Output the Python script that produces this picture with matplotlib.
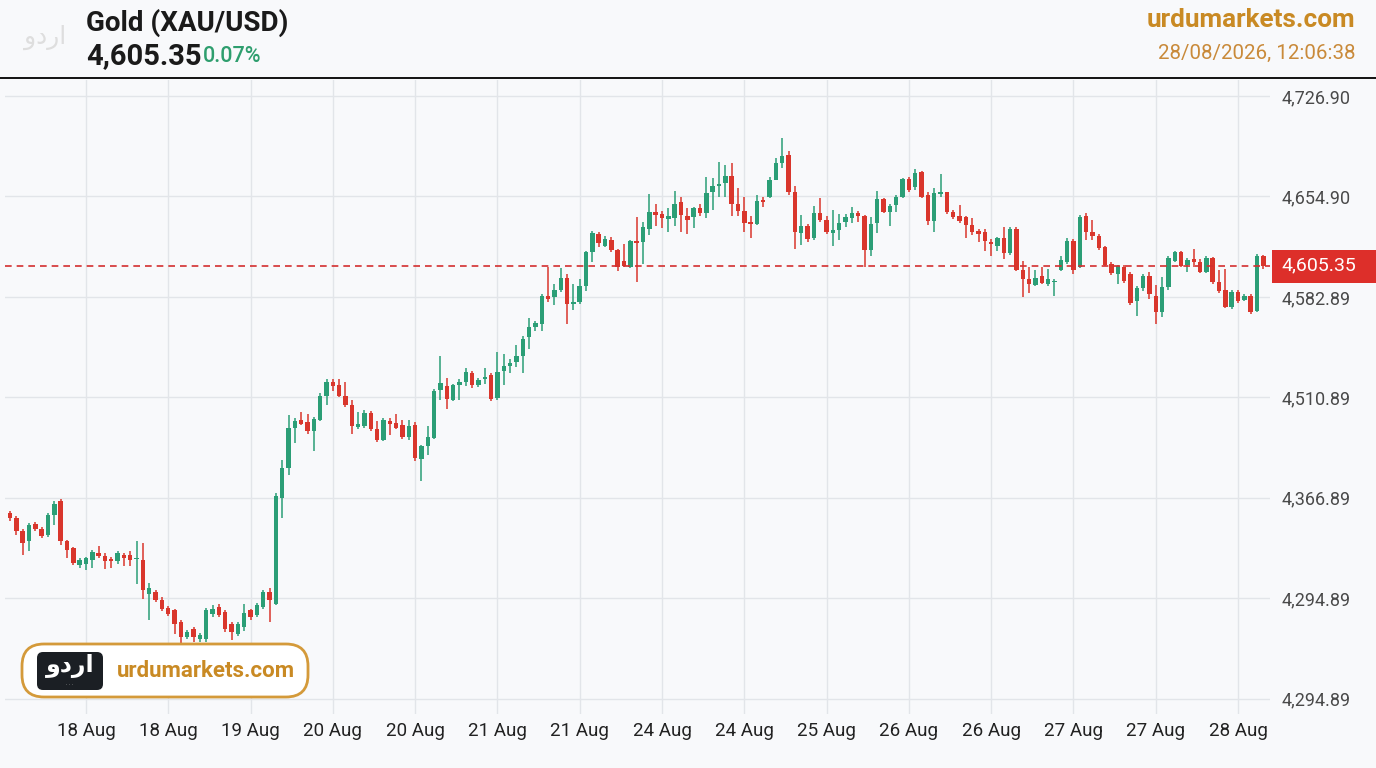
import numpy as np
import matplotlib
matplotlib.use('Agg')
import matplotlib.pyplot as plt
from matplotlib.patches import FancyBboxPatch, Rectangle
from matplotlib.lines import Line2D

plt.rcParams['font.family'] = ['Roboto', 'DejaVu Sans']

# Datos OHLC (velas)
opens = [4428.1, 4424.5, 4415.3, 4408.1, 4420.2, 4416.7, 4412.4, 4426.7, 4436.7, 4408.1,
         4403.1, 4391.1, 4391.8, 4394.6, 4399.6, 4397.5, 4395.3, 4393.9, 4398.2, 4398.2,
         4395.3, 4394.6, 4369.7, 4371.1, 4365.4, 4359.6, 4358.2, 4349.7, 4339.0, 4344.7,
         4337.6, 4337.6, 4355.4, 4360.4, 4356.8, 4348.2, 4341.1, 4346.1, 4358.2, 4354.7,
         4360.4, 4371.1, 4362.5, 4438.8, 4460.2, 4488.7, 4494.4, 4493.0, 4486.6, 4494.4,
         4512.2, 4522.2, 4519.4, 4512.2, 4505.1, 4489.5, 4490.2, 4499.4, 4488.0, 4480.2,
         4493.7, 4492.3, 4490.9, 4482.3, 4490.9, 4466.6, 4475.9, 4481.6, 4516.5, 4518.7,
         4508.7, 4520.1, 4522.2, 4528.7, 4519.4, 4523.7, 4527.2, 4510.1, 4530.1, 4533.7,
         4536.5, 4540.8, 4554.3, 4561.5, 4563.6, 4583.5, 4582.8, 4587.8, 4596.4, 4577.8,
         4579.3, 4590.7, 4614.9, 4627.7, 4619.2, 4623.5, 4616.3, 4608.5, 4604.2, 4622.8,
         4622.0, 4631.3, 4643.4, 4642.0, 4638.5, 4639.2, 4650.6, 4640.6, 4639.9, 4646.3,
         4642.7, 4657.7, 4662.0, 4664.8, 4669.8, 4649.1, 4644.1, 4636.3, 4634.9, 4652.0,
         4654.8, 4667.0, 4679.1, 4684.8, 4657.7, 4628.5, 4633.5, 4624.9, 4642.7, 4637.7,
         4628.5, 4630.6, 4636.3, 4639.2, 4642.7, 4640.6, 4616.3, 4635.6, 4652.7, 4643.4,
         4648.4, 4654.8, 4667.7, 4661.3, 4672.7, 4655.6, 4637.0, 4656.3, 4657.7, 4643.4,
         4640.6, 4639.9, 4634.2, 4629.9, 4629.2, 4622.0, 4619.2, 4624.9, 4614.2, 4631.3,
         4602.1, 4595.7, 4591.4, 4597.8, 4592.1, 4593.5, 4602.1, 4607.8, 4622.8, 4604.2,
         4640.6, 4629.2, 4626.3, 4618.5, 4606.4, 4599.2, 4604.2, 4599.2, 4580.0, 4589.2,
         4597.8, 4583.5, 4572.1, 4590.0, 4608.5, 4614.9, 4605.6, 4609.9, 4607.8, 4600.7,
         4610.6, 4593.5, 4587.8, 4575.7, 4586.4, 4580.7, 4583.5, 4572.8, 4612.1]

highs = [4429.5, 4426.0, 4416.7, 4420.9, 4421.7, 4418.1, 4428.1, 4436.7, 4438.1, 4408.8,
         4403.8, 4396.0, 4396.7, 4401.7, 4404.6, 4399.6, 4396.7, 4401.0, 4399.6, 4401.0,
         4408.1, 4406.7, 4378.2, 4373.2, 4367.5, 4361.1, 4358.9, 4351.1, 4344.0, 4346.1,
         4341.8, 4359.6, 4361.8, 4362.5, 4358.2, 4349.7, 4349.7, 4362.5, 4358.9, 4363.2,
         4372.5, 4374.6, 4442.4, 4465.9, 4498.0, 4495.9, 4500.1, 4498.7, 4496.6, 4513.7,
         4524.4, 4524.4, 4523.7, 4522.2, 4508.7, 4500.1, 4501.5, 4500.8, 4493.7, 4495.9,
         4495.9, 4498.7, 4494.4, 4494.4, 4493.0, 4476.6, 4490.2, 4517.2, 4540.8, 4525.1,
         4520.8, 4524.4, 4532.2, 4530.1, 4525.1, 4532.2, 4528.0, 4543.6, 4542.2, 4538.6,
         4548.6, 4555.0, 4567.9, 4565.8, 4584.9, 4604.2, 4592.1, 4603.5, 4599.2, 4592.1,
         4595.7, 4615.6, 4629.9, 4629.2, 4626.4, 4625.6, 4617.1, 4620.6, 4623.5, 4639.9,
         4636.3, 4656.3, 4649.1, 4644.1, 4646.3, 4659.1, 4654.8, 4646.3, 4647.0, 4649.1,
         4669.1, 4668.4, 4679.8, 4677.7, 4679.1, 4661.2, 4654.8, 4640.6, 4655.6, 4654.8,
         4669.1, 4682.6, 4696.9, 4687.6, 4662.0, 4641.3, 4634.9, 4647.7, 4653.4, 4640.6,
         4644.9, 4642.0, 4642.0, 4647.0, 4644.1, 4641.3, 4639.9, 4659.1, 4654.1, 4649.1,
         4655.6, 4668.4, 4669.1, 4674.8, 4673.4, 4657.7, 4661.2, 4671.2, 4658.4, 4644.9,
         4648.4, 4640.6, 4639.2, 4631.3, 4631.3, 4624.2, 4625.6, 4632.7, 4632.7, 4632.7,
         4608.5, 4604.2, 4602.1, 4604.2, 4602.8, 4595.7, 4612.1, 4624.9, 4624.2, 4641.3,
         4642.7, 4637.7, 4627.7, 4619.2, 4607.8, 4605.6, 4605.6, 4600.7, 4590.7, 4599.2,
         4600.7, 4591.4, 4597.1, 4612.1, 4615.6, 4615.6, 4610.6, 4617.1, 4609.9, 4612.1,
         4611.3, 4602.1, 4602.8, 4587.8, 4587.8, 4584.9, 4584.9, 4613.5, 4612.8]

lows = [4422.4, 4412.4, 4398.2, 4401.0, 4415.3, 4410.3, 4411.0, 4419.5, 4405.3, 4396.0,
        4391.1, 4388.9, 4387.5, 4388.9, 4396.0, 4388.2, 4388.9, 4391.8, 4390.4, 4390.4,
        4377.5, 4366.1, 4351.1, 4363.9, 4357.5, 4354.0, 4341.1, 4333.3, 4337.6, 4335.4,
        4335.4, 4335.4, 4353.2, 4353.2, 4342.5, 4336.9, 4339.7, 4343.3, 4351.1, 4353.2,
        4358.9, 4349.7, 4361.8, 4424.5, 4455.2, 4478.0, 4490.9, 4484.4, 4472.5, 4493.7,
        4505.1, 4515.8, 4510.8, 4503.7, 4484.4, 4488.0, 4488.7, 4486.6, 4478.7, 4479.4,
        4483.7, 4488.0, 4480.9, 4480.2, 4465.2, 4450.9, 4469.5, 4480.9, 4508.7, 4502.9,
        4508.0, 4508.7, 4518.7, 4517.3, 4518.0, 4520.8, 4508.0, 4508.7, 4519.4, 4528.5,
        4532.9, 4528.7, 4545.8, 4558.6, 4558.6, 4579.3, 4577.1, 4586.4, 4563.6, 4573.6,
        4577.8, 4587.1, 4607.8, 4618.5, 4618.5, 4614.9, 4601.4, 4604.2, 4603.5, 4593.5,
        4606.4, 4627.0, 4633.5, 4632.0, 4629.2, 4633.5, 4629.2, 4627.7, 4632.0, 4640.6,
        4639.2, 4644.9, 4654.8, 4654.8, 4640.6, 4640.6, 4629.2, 4624.9, 4634.2, 4647.0,
        4654.1, 4666.3, 4675.5, 4655.9, 4617.1, 4619.9, 4622.0, 4623.5, 4636.3, 4627.7,
        4619.2, 4623.5, 4632.7, 4635.6, 4636.3, 4604.2, 4612.1, 4628.5, 4642.7, 4633.5,
        4643.4, 4654.1, 4657.7, 4659.8, 4654.1, 4634.2, 4629.2, 4654.8, 4642.0, 4638.4,
        4635.6, 4624.9, 4627.0, 4622.0, 4615.6, 4612.1, 4615.6, 4609.9, 4612.8, 4601.4,
        4582.8, 4585.7, 4590.7, 4592.1, 4590.7, 4583.5, 4601.4, 4606.4, 4599.2, 4603.5,
        4623.5, 4623.5, 4616.3, 4604.9, 4598.5, 4592.1, 4592.8, 4577.1, 4569.3, 4587.1,
        4581.4, 4563.6, 4568.6, 4587.8, 4607.8, 4604.2, 4600.7, 4604.2, 4600.0, 4600.0,
        4592.1, 4585.7, 4575.0, 4574.3, 4578.5, 4579.9, 4570.7, 4572.1, 4602.8]

closes = [4424.5, 4415.3, 4406.7, 4419.5, 4416.7, 4411.7, 4426.7, 4434.5, 4408.1, 4401.7,
          4392.5, 4394.6, 4396.0, 4400.3, 4397.5, 4393.9, 4393.9, 4399.6, 4396.0, 4394.6,
          4396.0, 4372.5, 4374.6, 4365.4, 4358.9, 4355.4, 4348.2, 4339.0, 4342.5, 4339.0,
          4340.4, 4358.2, 4358.9, 4354.7, 4344.7, 4342.5, 4348.2, 4356.1, 4353.2, 4361.8,
          4371.1, 4365.4, 4440.2, 4460.2, 4488.7, 4493.7, 4491.6, 4486.6, 4495.1, 4512.2,
          4522.2, 4518.7, 4512.2, 4505.1, 4490.2, 4491.6, 4499.4, 4488.0, 4480.2, 4494.4,
          4491.6, 4488.7, 4482.3, 4490.2, 4467.3, 4475.9, 4482.3, 4515.8, 4521.5, 4509.4,
          4520.1, 4522.2, 4529.4, 4519.4, 4523.0, 4525.8, 4509.4, 4529.4, 4533.7, 4535.8,
          4540.8, 4552.9, 4561.5, 4564.3, 4583.5, 4581.4, 4587.8, 4596.4, 4577.8, 4579.3,
          4590.7, 4614.9, 4628.5, 4621.4, 4624.2, 4616.3, 4604.2, 4604.9, 4622.8, 4621.4,
          4632.7, 4643.4, 4641.3, 4639.2, 4640.6, 4649.1, 4641.3, 4637.7, 4646.3, 4642.7,
          4657.0, 4662.0, 4664.1, 4669.8, 4649.1, 4644.1, 4635.6, 4634.9, 4651.3, 4650.6,
          4667.0, 4679.1, 4684.1, 4657.7, 4629.2, 4633.5, 4624.2, 4642.7, 4637.7, 4629.2,
          4630.6, 4635.6, 4639.9, 4642.7, 4640.6, 4616.3, 4634.9, 4652.7, 4643.4, 4647.7,
          4654.8, 4667.7, 4659.8, 4671.9, 4654.8, 4637.0, 4657.0, 4657.7, 4643.4, 4639.9,
          4637.0, 4634.2, 4629.2, 4627.7, 4622.8, 4620.6, 4624.9, 4614.2, 4631.3, 4602.1,
          4595.7, 4592.1, 4596.4, 4592.8, 4595.7, 4594.2, 4609.2, 4622.8, 4602.1, 4639.9,
          4629.2, 4626.3, 4617.8, 4605.6, 4600.0, 4604.9, 4594.2, 4578.5, 4589.2, 4597.8,
          4584.9, 4572.1, 4590.0, 4610.6, 4614.9, 4604.9, 4609.2, 4607.8, 4600.7, 4610.6,
          4593.5, 4587.1, 4575.7, 4586.4, 4579.9, 4583.5, 4572.1, 4612.1, 4605.35]

last_price = 4605.35
change_txt = '0.07%'
x_labels = ['18 Aug', '18 Aug', '19 Aug', '20 Aug', '20 Aug', '21 Aug', '21 Aug', '24 Aug',
            '24 Aug', '25 Aug', '26 Aug', '26 Aug', '27 Aug', '27 Aug', '28 Aug']
y_grid = [4726.90, 4654.90, 4582.89, 4510.89, 4438.89, 4366.89, 4294.89]
y_labels = ['4,726.90', '4,654.90', '4,582.89', '4,510.89', '4,366.89', '4,294.89', '4,294.89']

# Colores
bg = '#f8f9fb'
verde = '#2b9e76'
rojo = '#d9362c'
naranja = '#c98a24'

W, H = 1376, 768
fig = plt.figure(figsize=(W / 100, H / 100), dpi=100)
fig.patch.set_facecolor(bg)

ax = fig.add_axes([5 / W, 1 - 714 / H, (1270 - 5) / W, (714 - 80) / H])
ax.set_facecolor(bg)

o = np.array(opens)
c = np.array(closes)
hi = np.array(highs)
lo = np.array(lows)
idx = np.arange(len(c))
colores = np.where(c >= o, verde, rojo)

# Mechas y cuerpos
ax.vlines(idx, lo, hi, colors=colores, lw=1.1, zorder=3)
cuerpo = np.maximum(np.abs(c - o), 0.7)
ax.bar(idx, cuerpo, bottom=np.minimum(o, c), width=0.7, color=colores, zorder=4, lw=0)

ax.axhline(last_price, color='#d32f2f', ls=(0, (4, 3)), lw=1.2, zorder=5)

ax.set_xlim(-0.79, 199.05)
ax.set_ylim(4284.0, 4738.3)

xt = 12 + 13 * np.arange(len(x_labels))
ax.set_xticks(xt)
ax.set_xticklabels(x_labels, fontsize=13.5, color='#222222')
ax.set_yticks(y_grid)
ax.set_yticklabels(y_labels, fontsize=13, color='#4a4a4a')
ax.get_yticklabels()[-1].set_color('#c9c9c9')
ax.yaxis.tick_right()
ax.tick_params(axis='y', length=0, pad=8)
ax.tick_params(axis='x', length=0, pad=6)
ax.grid(True, color='#e2e5e9', lw=1, zorder=0)
for s in ax.spines.values():
    s.set_visible(False)

# Capa superior en pixeles
ov = fig.add_axes([0, 0, 1, 1], zorder=10)
ov.set_xlim(0, W)
ov.set_ylim(H, 0)
ov.axis('off')

ov.add_line(Line2D([0, W], [78, 78], color='#111111', lw=1.4))

# Etiqueta del precio actual
fig.canvas.draw()
y_disp = ax.transData.transform((0, last_price))[1]
y_px = H - y_disp
ov.add_patch(Rectangle((1272, y_px - 16), 104, 33, color='#dd2f2a', lw=0))
ov.text(1281, y_px, '4,605.35', color='white', fontsize=14, va='center', ha='left')

# Encabezado
ov.text(45, 37, 'ودرا', fontsize=18, color='#dedede', ha='center', va='center')
ov.text(86, 23, 'Gold (XAU/USD)', fontsize=20, fontweight='bold', color='#1a1a1a', va='center')
t_price = ov.text(86, 56, '4,605.35', fontsize=21, fontweight='bold', color='#1a1a1a', va='center')
fig.canvas.draw()
bb = t_price.get_window_extent()
ov.text(bb.x1 + 1, 57, change_txt, fontsize=15.5, fontweight='medium', color='#2e9e6e', va='center')
ov.text(1355, 20, 'urdumarkets.com', fontsize=18.8, fontweight='bold', color=naranja, ha='right', va='center')
ov.text(1355, 53, '28/08/2026, 12:06:38', fontsize=14.8, color='#c98a3a', ha='right', va='center')

# Marca de agua abajo a la izquierda
ov.add_patch(FancyBboxPatch((22, 644), 286, 53, boxstyle='round,pad=0,rounding_size=22',
                            fc='white', ec='#d49a3a', lw=2))
ov.add_patch(FancyBboxPatch((37, 652), 66, 38, boxstyle='round,pad=0,rounding_size=6',
                            fc='#1b1f24', ec='none'))
ov.text(70, 666, 'ودرا', fontsize=17, fontweight='bold', color='white', ha='center', va='center')
ov.text(70, 684, '· · ·', fontsize=4, color='#cccccc', ha='center', va='center')
ov.text(117, 671, 'urdumarkets.com', fontsize=16, fontweight='bold', color=naranja, va='center')

fig.savefig('out.png', dpi=100, facecolor=bg)
